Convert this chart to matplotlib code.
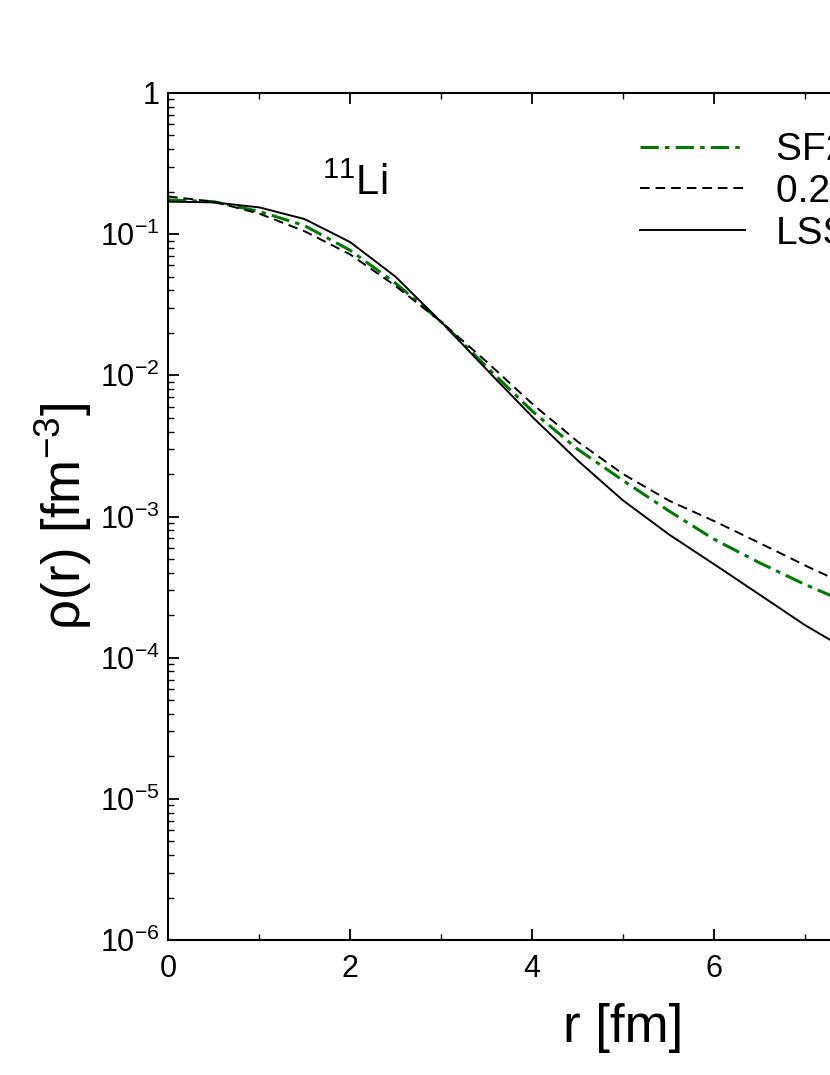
import matplotlib
matplotlib.use("Agg")
import matplotlib.pyplot as plt
import numpy as np
from matplotlib.ticker import LogLocator, FixedLocator, NullFormatter

plt.rcParams['font.family'] = ['Liberation Sans', 'DejaVu Sans']
plt.rcParams['mathtext.fontset'] = 'custom'
plt.rcParams['mathtext.rm'] = 'Liberation Sans'
plt.rcParams['mathtext.it'] = 'Liberation Sans'

r = [0, 0.5, 1.0, 1.5, 2.0, 2.5, 3.0, 3.5, 4.0, 4.5, 5.0, 5.5, 6.0, 6.5, 7.0, 7.5, 8.0]
rho_sf2 = [0.175, 0.17, 0.145, 0.115, 0.077, 0.045, 0.024, 0.0115, 0.0056, 0.0030, 0.0018, 0.0011, 0.00069, 0.00047, 0.00033, 0.00024, 0.00018]
rho_026 = [0.185, 0.17, 0.14, 0.105, 0.072, 0.043, 0.024, 0.0125, 0.0063, 0.0034, 0.0020, 0.0013, 0.00093, 0.00065, 0.00045, 0.00032, 0.00023]
rho_lss = [0.17, 0.168, 0.155, 0.128, 0.088, 0.05, 0.024, 0.011, 0.0051, 0.0025, 0.0013, 0.00075, 0.00046, 0.00028, 0.00017, 0.00011, 0.00007]
labels = ["SF2 model", "0.26 fm", "LSSM"]

def smooth(x, y):
    xs = np.linspace(x[0], x[-1], 200)
    return xs, np.exp(np.interp(xs, x, np.log(y)))

fig = plt.figure(figsize=(8.30, 10.75), dpi=100)
ax = fig.add_axes([168/830, 135/1075, 910/830, 847/1075])
ax.plot(*smooth(r, rho_sf2), color="#007a00", ls=(0, (6, 2, 1.5, 2)), lw=2.2, label=labels[0])
ax.plot(*smooth(r, rho_026), color="black", ls=(0, (5, 3)), lw=1.4, label=labels[1])
ax.plot(*smooth(r, rho_lss), color="black", ls="-", lw=1.4, label=labels[2])
ax.set_yscale("log")
ax.set_xlim(0, 10)
ax.set_ylim(1e-6, 1)
ax.xaxis.set_major_locator(FixedLocator([0, 2, 4, 6, 8, 10]))
ax.xaxis.set_minor_locator(FixedLocator([1, 3, 5, 7, 9]))
ax.yaxis.set_minor_locator(LogLocator(base=10, subs=np.arange(2, 10), numticks=20))
ax.yaxis.set_minor_formatter(NullFormatter())
ax.set_yticks([1e-6, 1e-5, 1e-4, 1e-3, 1e-2, 1e-1, 1])
ax.set_yticklabels([r"10$^{-6}$", r"10$^{-5}$", r"10$^{-4}$", r"10$^{-3}$", r"10$^{-2}$", r"10$^{-1}$", "1"])
ax.tick_params(which="both", direction="in", top=True, right=True, labelsize=22)
ax.tick_params(axis="x", pad=10)
ax.tick_params(axis="y", pad=6)
ax.tick_params(which="major", length=8, width=1.3)
ax.tick_params(which="minor", length=4, width=1)
for s in ax.spines.values():
    s.set_linewidth(1.5)
ax.set_xlabel("r [fm]", fontsize=38, labelpad=14)
ax.set_ylabel(r"$\rho$(r) [fm$^{-3}$]", fontsize=38, labelpad=4)
ax.text(2.05, 0.19, r"$^{11}$Li", fontsize=30, ha="center")
ax.legend(loc="upper left", bbox_to_anchor=(0.48, 0.995), frameon=False, fontsize=28,
          handlelength=2.7, labelspacing=0.15)
fig.savefig("out.png", dpi=100)
